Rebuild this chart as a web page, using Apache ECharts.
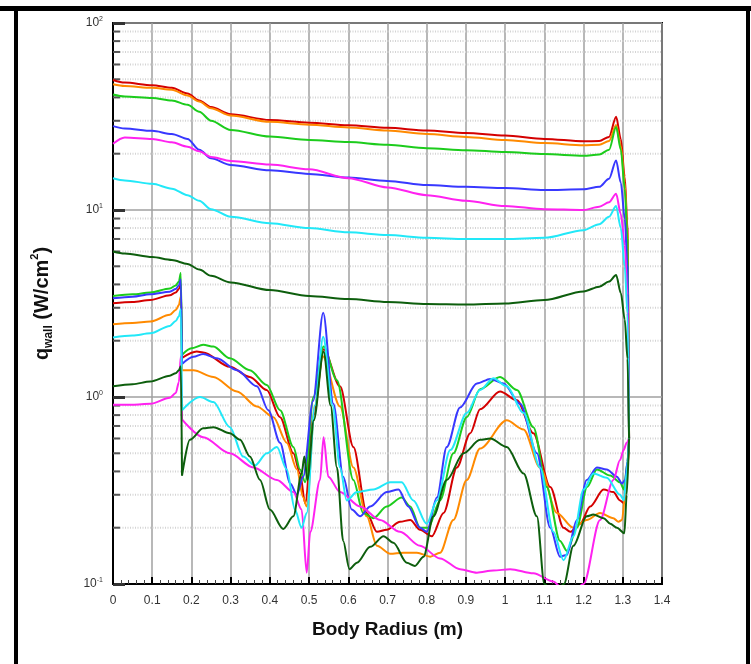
<!DOCTYPE html>
<html><head><meta charset="utf-8">
<script src="https://cdn.jsdelivr.net/npm/echarts@6/dist/echarts.min.js"></script>
<style>html,body{margin:0;padding:0;background:#fff}#c{width:751px;height:664px}</style>
</head><body><div id="c"></div><script>
// ---- data ----
const xTickLabels = ['0','0.1','0.2','0.3','0.4','0.5','0.6','0.7','0.8','0.9','1','1.1','1.2','1.3','1.4'];
const yTickValues = [0.1, 1, 10, 100];
const minorYValues = [0.2,0.3,0.4,0.5,0.6,0.7,0.8,0.9,2,3,4,5,6,7,8,9,20,30,40,50,60,70,80,90];

// forebody (upper) branch, shared x
const upperX = [0, 0.03, 0.1, 0.15, 0.19, 0.22, 0.25, 0.3, 0.4, 0.5, 0.6, 0.7, 0.8, 0.9, 1.0, 1.1, 1.2, 1.24, 1.265, 1.283, 1.295, 1.305, 1.312, 1.316];
const redUpper     = [49.6, 48, 46.5, 45, 42, 38.5, 35.5, 32.5, 30.3, 29.3, 28.4, 27.5, 26.6, 25.8, 25.0, 24.0, 23.3, 23.4, 24.6, 31.5, 24, 15, 8, 0.6];
const orangeUpper  = [47, 46, 45, 44, 41, 38, 35, 32, 29.6, 28.6, 27.6, 26.6, 25.5, 24.6, 23.7, 22.8, 22.2, 22.3, 23.4, 28.5, 22, 14, 7.5, 0.6];
const greenUpper   = [41.5, 40.5, 39.7, 38.5, 36.5, 33.5, 30, 26.8, 24.7, 23.7, 23.1, 22.3, 21.4, 20.9, 20.4, 19.9, 19.5, 19.8, 21, 27.8, 21, 13, 7, 0.6];
const blueUpper    = [28.1, 27.3, 26.5, 25.5, 24, 21, 18.9, 17.4, 16.3, 15.6, 14.9, 14.3, 13.6, 13.3, 13.1, 12.8, 12.9, 13.3, 14.7, 18.4, 14, 9, 5, 0.6];
const magentaUpper = [22.6, 24.4, 24.0, 23, 21.8, 20.6, 19.2, 18.3, 17.5, 16.5, 14.8, 13.2, 12.0, 11.2, 10.5, 10.1, 10.0, 10.4, 11.0, 12.2, 9.5, 6.5, 3.5, 0.6];
const cyanUpper    = [14.8, 14.4, 13.8, 13.0, 12.0, 11.2, 10.1, 9.2, 8.5, 8.0, 7.6, 7.35, 7.1, 7.0, 7.0, 7.1, 7.8, 8.4, 9.2, 10.5, 8, 5, 2.8, 0.6];
const dkgreenUpper = [6.0, 5.85, 5.6, 5.4, 5.15, 4.8, 4.45, 4.1, 3.73, 3.47, 3.34, 3.22, 3.14, 3.12, 3.16, 3.3, 3.67, 3.89, 4.14, 4.49, 3.6, 2.6, 1.6, 0.6];

// base branch (x 0 .. 0.176), shared x
const baseX = [0, 0.05, 0.095, 0.145, 0.16, 0.168, 0.173, 0.176];
const redBase     = [3.17, 3.22, 3.3, 3.5, 3.62, 3.78, 4.0, 1.62];
const orangeBase  = [2.45, 2.49, 2.53, 2.75, 2.92, 3.1, 3.45, 1.39];
const greenBase   = [3.47, 3.54, 3.62, 3.8, 3.95, 4.15, 4.6, 1.68];
const blueBase    = [3.37, 3.44, 3.54, 3.66, 3.78, 3.95, 4.25, 1.5];
const magentaBase = [0.91, 0.91, 0.92, 0.99, 1.05, 1.2, 1.65, 0.76];
const cyanBase    = [2.08, 2.13, 2.19, 2.4, 2.55, 2.7, 2.95, 0.85];
const dkgreenBase = [1.14, 1.17, 1.21, 1.3, 1.34, 1.39, 1.46, 0.38];

// backshell (lower) branch
const redLowerX = [0.176, 0.2135, 0.23, 0.298, 0.349, 0.392, 0.426, 0.46, 0.477, 0.49, 0.512, 0.537, 0.579, 0.613, 0.647, 0.673, 0.698, 0.732, 0.758, 0.783, 0.813, 0.843, 0.877, 0.911, 0.936, 0.987, 1.03, 1.072, 1.115, 1.149, 1.166, 1.191, 1.217, 1.251, 1.276, 1.293, 1.303, 1.312, 1.316];
const redLower  = [1.62, 1.75, 1.73, 1.45, 1.28, 1.09, 0.78, 0.5, 0.39, 0.27, 0.8, 1.8, 1.14, 0.54, 0.24, 0.19, 0.195, 0.215, 0.22, 0.195, 0.18, 0.24, 0.42, 0.64, 0.86, 1.07, 0.96, 0.64, 0.33, 0.2, 0.19, 0.21, 0.26, 0.32, 0.31, 0.28, 0.27, 0.4, 0.6];

const orangeLowerX = [0.176, 0.205, 0.256, 0.316, 0.367, 0.409, 0.443, 0.469, 0.485, 0.494, 0.515, 0.535, 0.579, 0.613, 0.647, 0.673, 0.707, 0.74, 0.775, 0.809, 0.834, 0.868, 0.902, 0.936, 1.004, 1.047, 1.089, 1.132, 1.174, 1.208, 1.242, 1.276, 1.289, 1.298, 1.306, 1.312, 1.316];
const orangeLower  = [1.39, 1.39, 1.28, 1.07, 0.89, 0.78, 0.57, 0.41, 0.29, 0.26, 0.9, 1.65, 0.89, 0.42, 0.23, 0.16, 0.145, 0.147, 0.147, 0.14, 0.147, 0.22, 0.36, 0.53, 0.75, 0.67, 0.42, 0.24, 0.2, 0.22, 0.24, 0.225, 0.215, 0.22, 0.3, 0.42, 0.6];

const greenLowerX = [0.176, 0.2, 0.23, 0.256, 0.298, 0.349, 0.392, 0.426, 0.46, 0.477, 0.49, 0.511, 0.537, 0.571, 0.613, 0.638, 0.664, 0.698, 0.736, 0.758, 0.783, 0.804, 0.834, 0.868, 0.902, 0.936, 0.987, 1.03, 1.072, 1.106, 1.14, 1.158, 1.183, 1.209, 1.234, 1.268, 1.293, 1.303, 1.312, 1.316];
const greenLower  = [1.68, 1.82, 1.9, 1.86, 1.61, 1.39, 1.16, 0.85, 0.54, 0.41, 0.35, 1.0, 1.86, 1.23, 0.36, 0.24, 0.225, 0.26, 0.29, 0.26, 0.2, 0.2, 0.28, 0.5, 0.78, 1.1, 1.28, 1.09, 0.69, 0.33, 0.17, 0.15, 0.2, 0.33, 0.41, 0.38, 0.35, 0.32, 0.45, 0.6];

const blueLowerX = [0.176, 0.205, 0.23, 0.265, 0.316, 0.367, 0.396, 0.426, 0.452, 0.469, 0.485, 0.51, 0.536, 0.562, 0.587, 0.609, 0.63, 0.656, 0.698, 0.728, 0.753, 0.783, 0.8, 0.826, 0.851, 0.885, 0.928, 0.962, 0.996, 1.038, 1.081, 1.115, 1.14, 1.157, 1.183, 1.208, 1.234, 1.259, 1.285, 1.298, 1.306, 1.312, 1.316];
const blueLower  = [1.5, 1.64, 1.70, 1.61, 1.39, 1.14, 0.85, 0.57, 0.345, 0.30, 0.375, 0.95, 2.82, 0.92, 0.375, 0.25, 0.23, 0.26, 0.31, 0.32, 0.26, 0.2, 0.19, 0.29, 0.54, 0.88, 1.18, 1.25, 1.18, 0.92, 0.5, 0.2, 0.14, 0.143, 0.22, 0.36, 0.42, 0.41, 0.375, 0.345, 0.36, 0.45, 0.6];

const magentaLowerX = [0.176, 0.23, 0.298, 0.358, 0.418, 0.46, 0.481, 0.494, 0.503, 0.528, 0.537, 0.549, 0.579, 0.63, 0.681, 0.732, 0.783, 0.834, 0.885, 0.928, 0.97, 1.013, 1.072, 1.123, 1.14, 1.17, 1.2, 1.242, 1.276, 1.293, 1.302, 1.31, 1.316];
const magentaLower  = [0.76, 0.61, 0.5, 0.42, 0.36, 0.31, 0.25, 0.115, 0.19, 0.36, 0.61, 0.375, 0.31, 0.26, 0.22, 0.19, 0.16, 0.137, 0.12, 0.115, 0.118, 0.12, 0.114, 0.103, 0.097, 0.09, 0.1, 0.22, 0.36, 0.46, 0.52, 0.57, 0.6];

const cyanLowerX = [0.176, 0.222, 0.256, 0.298, 0.332, 0.362, 0.392, 0.418, 0.443, 0.464, 0.481, 0.494, 0.515, 0.536, 0.56, 0.579, 0.596, 0.622, 0.664, 0.707, 0.736, 0.766, 0.8, 0.826, 0.86, 0.902, 0.936, 0.97, 1.004, 1.047, 1.089, 1.123, 1.149, 1.174, 1.2, 1.225, 1.259, 1.293, 1.303, 1.31, 1.316];
const cyanLower  = [0.85, 1.0, 0.94, 0.69, 0.48, 0.43, 0.5, 0.54, 0.41, 0.25, 0.2, 0.24, 0.9, 2.1, 0.9, 0.42, 0.28, 0.31, 0.32, 0.35, 0.35, 0.28, 0.21, 0.28, 0.52, 0.82, 1.09, 1.26, 1.14, 0.82, 0.42, 0.19, 0.134, 0.18, 0.32, 0.39, 0.37, 0.3, 0.28, 0.4, 0.6];

const dkgreenLowerX = [0.176, 0.196, 0.23, 0.256, 0.298, 0.324, 0.349, 0.375, 0.4, 0.434, 0.46, 0.481, 0.488, 0.496, 0.512, 0.537, 0.555, 0.571, 0.587, 0.603, 0.622, 0.656, 0.69, 0.715, 0.749, 0.77, 0.792, 0.817, 0.851, 0.894, 0.936, 0.962, 1.004, 1.047, 1.081, 1.1, 1.125, 1.15, 1.174, 1.208, 1.225, 1.251, 1.268, 1.285, 1.304, 1.31, 1.316];
const dkgreenLower  = [0.38, 0.59, 0.68, 0.69, 0.64, 0.59, 0.48, 0.36, 0.25, 0.197, 0.23, 0.39, 0.48, 0.36, 0.75, 1.75, 0.9, 0.42, 0.17, 0.12, 0.13, 0.158, 0.18, 0.166, 0.13, 0.125, 0.14, 0.23, 0.36, 0.5, 0.59, 0.6, 0.54, 0.39, 0.23, 0.1, 0.088, 0.1, 0.16, 0.23, 0.235, 0.225, 0.21, 0.2, 0.187, 0.3, 0.6];

const curves = [
  {color:'#d40000', upper:redUpper,     base:redBase,     lx:redLowerX,     ly:redLower},
  {color:'#ff8a00', upper:orangeUpper,  base:orangeBase,  lx:orangeLowerX,  ly:orangeLower},
  {color:'#1ccc1c', upper:greenUpper,   base:greenBase,   lx:greenLowerX,   ly:greenLower},
  {color:'#3838ff', upper:blueUpper,    base:blueBase,    lx:blueLowerX,    ly:blueLower},
  {color:'#ff22f0', upper:magentaUpper, base:magentaBase, lx:magentaLowerX, ly:magentaLower},
  {color:'#22e8f8', upper:cyanUpper,    base:cyanBase,    lx:cyanLowerX,    ly:cyanLower},
  {color:'#0d5e0d', upper:dkgreenUpper, base:dkgreenBase, lx:dkgreenLowerX, ly:dkgreenLower}
];

// ---- chart ----
const FONT = "'Liberation Sans', Arial, sans-serif";
function lineSeries(color, xs, ys) {
  return {type:'line', data: xs.map((x,i)=>[x, ys[i]]), showSymbol:false, smooth:0.3, smoothMonotone:'x',
    lineStyle:{color, width:2}, itemStyle:{color}, silent:true, z:3, clip:true};
}
const series = [{
  type:'custom', silent:true, z:1,
  data: minorYValues.map(v=>[0, v]),
  renderItem: function(params, api){
    const p = api.coord([0, api.value(1)]);
    const cs = params.coordSys;
    return {type:'group', children:[
      {type:'line', shape:{x1:cs.x+2, y1:p[1], x2:cs.x+cs.width, y2:p[1]}, style:{stroke:'#d4d4d4', lineWidth:2, lineDash:[1,1.5]}},
      {type:'line', shape:{x1:cs.x, y1:p[1], x2:cs.x+7, y2:p[1]}, style:{stroke:'#555', lineWidth:2}}
    ]};
  }
}];
curves.forEach(c=>{
  series.push(lineSeries(c.color, upperX, c.upper));
  series.push(lineSeries(c.color, baseX, c.base));
  series.push(lineSeries(c.color, c.lx, c.ly));
});

const chart = echarts.init(document.getElementById('c'), null, {renderer:'canvas'});
chart.setOption({
  animation:false,
  backgroundColor:'#fff',
  grid:{left:113, right:89, top:23, bottom:80, show:true, borderColor:'#000', borderWidth:2, backgroundColor:'transparent'},
  xAxis:{
    type:'value', min:0, max:1.4, interval:0.1,
    name:'Body Radius (m)', nameLocation:'middle', nameGap:36,
    nameTextStyle:{fontFamily:FONT, fontSize:19, fontWeight:'bold', color:'#111'},
    axisLine:{lineStyle:{color:'#000', width:2}},
    axisTick:{inside:true, length:7, lineStyle:{color:'#000', width:2}},
    minorTick:{show:true, splitNumber:5, length:4, lineStyle:{color:'#444', width:1}},
    splitLine:{show:true, lineStyle:{color:'#a0a0a0', width:1.5}},
    axisLabel:{fontFamily:FONT, fontSize:12, color:'#333', margin:11,
      formatter:(v)=>{const i=Math.round(v*10); return xTickLabels[i]!==undefined?xTickLabels[i]:'';}}
  },
  yAxis:{
    type:'log', logBase:10, min:0.1, max:100,
    name:'{q|q}{w|wall}{q| (W/cm}{t|2}{q|)}', nameLocation:'middle', nameGap:58, nameRotate:90,
    nameTextStyle:{rich:{
      q:{fontFamily:FONT, fontSize:20, fontWeight:'bold', color:'#111', lineHeight:26},
      w:{fontFamily:FONT, fontSize:12, fontWeight:'bold', color:'#111', verticalAlign:'bottom'},
      t:{fontFamily:FONT, fontSize:11, fontWeight:'bold', color:'#111', verticalAlign:'top'}
    }},
    axisLine:{lineStyle:{color:'#000', width:2}},
    axisTick:{inside:true, length:12, lineStyle:{color:'#333', width:3}},
    splitLine:{show:true, lineStyle:{color:'#a0a0a0', width:1.5}},
    axisLabel:{margin:10,
      formatter:(v)=>{const e=Math.round(Math.log10(v)); if(!yTickValues.some(t=>Math.abs(Math.log10(t)-e)<1e-6)) return ''; return '{b|10}{s|'+e+'}';},
      rich:{
        b:{fontFamily:FONT, fontSize:12, color:'#333', lineHeight:14},
        s:{fontFamily:FONT, fontSize:7, color:'#333', verticalAlign:'top'}
      }}
  },
  graphic:[
    {type:'rect', silent:true, shape:{x:0, y:6, width:751, height:5}, style:{fill:'#000'}},
    {type:'rect', silent:true, shape:{x:14, y:6, width:4, height:660}, style:{fill:'#000'}},
    {type:'rect', silent:true, shape:{x:746, y:6, width:4, height:660}, style:{fill:'#000'}}
  ],
  series: series
});
</script></body></html>
